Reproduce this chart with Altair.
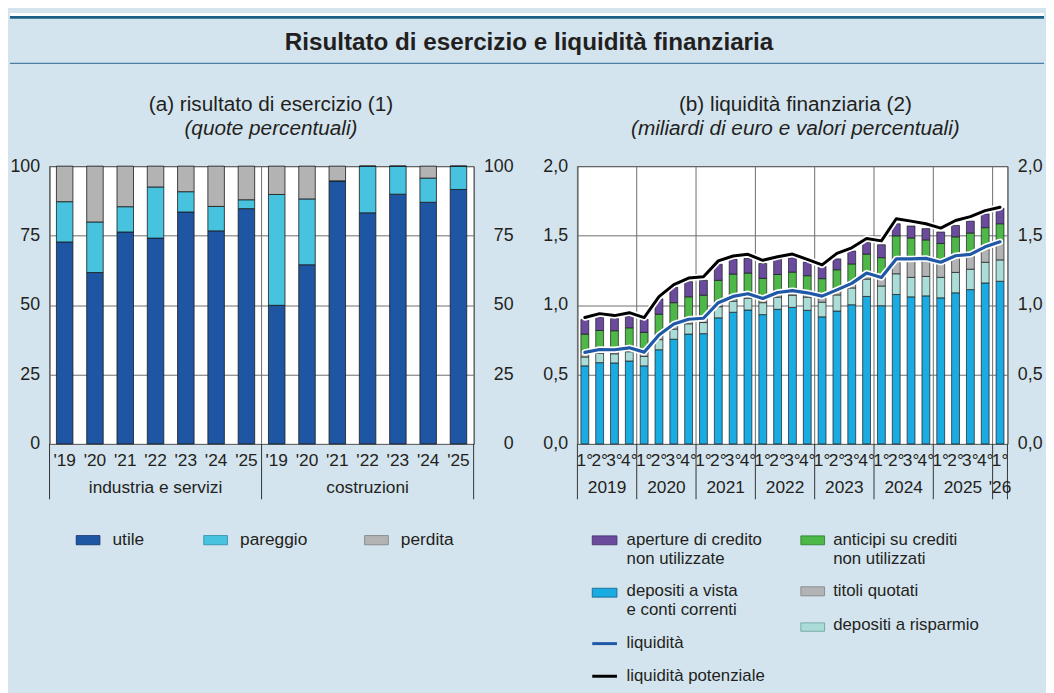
import altair as alt
import pandas as pd

FONT = "Liberation Sans"
BG = "#d3e4ee"
TXT = "#231f20"
GRID = "#6d6d6d"

# ---------------- panel (a): risultato di esercizio ----------------
groups_a = ["industria e servizi", "costruzioni"]
years_a = ["'19", "'20", "'21", "'22", "'23", "'24", "'25"]
series_a = ["utile", "pareggio", "perdita"]
colors_a = ["#1f56a3", "#48c3df", "#b3b3b3"]
strokes_a = ["#0f2f66", "#2a8aa6", "#7d7d7d"]

utile_ind = [72.7, 61.7, 76.3, 74.1, 83.5, 76.7, 84.7]
pareggio_ind = [14.5, 18.2, 9.1, 18.4, 7.3, 8.8, 3.2]
perdita_ind = [12.8, 20.1, 14.6, 7.5, 9.2, 14.5, 12.1]
utile_cos = [49.9, 64.5, 94.7, 83.2, 89.9, 87.0, 91.6]
pareggio_cos = [39.9, 23.7, 0.0, 16.8, 10.1, 8.7, 8.4]
perdita_cos = [10.2, 11.8, 5.3, 0.0, 0.0, 4.3, 0.0]

# ---------------- panel (b): liquidità finanziaria ----------------
years_b = [2019, 2020, 2021, 2022, 2023, 2024, 2025, 2026]
year_labels_b = ["2019", "2020", "2021", "2022", "2023", "2024", "2025", "'26"]
series_b = ["depositi a vista e conti correnti", "depositi a risparmio",
            "titoli quotati", "anticipi su crediti non utilizzati",
            "aperture di credito non utilizzate"]
colors_b = ["#1aabe2", "#aadcd8", "#b1b3b4", "#4db748", "#6a4b9d"]
strokes_b = ["#0d5f85", "#6a9c99", "#7f8182", "#2a7a2a", "#3e2a66"]

dep_vista = [0.562, 0.585, 0.583, 0.597, 0.562, 0.678, 0.754, 0.791, 0.794, 0.908,
             0.948, 0.964, 0.931, 0.969, 0.983, 0.962, 0.915, 0.957, 1.002, 1.062,
             0.995, 1.076, 1.059, 1.066, 1.052, 1.088, 1.111, 1.159, 1.171]
dep_risparmio = [0.064, 0.069, 0.066, 0.067, 0.068, 0.073, 0.073, 0.074, 0.080, 0.080,
                 0.080, 0.086, 0.086, 0.088, 0.088, 0.095, 0.106, 0.116, 0.121, 0.125,
                 0.142, 0.149, 0.140, 0.140, 0.147, 0.147, 0.147, 0.149, 0.154]
titoli = [0.033, 0.026, 0.029, 0.028, 0.031, 0.033, 0.036, 0.033, 0.031, 0.029,
          0.034, 0.031, 0.030, 0.033, 0.033, 0.031, 0.043, 0.036, 0.033, 0.043,
          0.062, 0.107, 0.133, 0.130, 0.109, 0.120, 0.107, 0.111, 0.130]
anticipi = [0.132, 0.137, 0.137, 0.144, 0.142, 0.150, 0.154, 0.161, 0.166, 0.161,
            0.161, 0.149, 0.145, 0.130, 0.133, 0.123, 0.126, 0.145, 0.140, 0.137,
            0.142, 0.166, 0.151, 0.133, 0.135, 0.136, 0.154, 0.138, 0.130]
aperture = [0.105, 0.093, 0.088, 0.083, 0.095, 0.111, 0.111, 0.109, 0.107, 0.116,
            0.109, 0.106, 0.107, 0.112, 0.104, 0.099, 0.090, 0.078, 0.093, 0.083,
            0.093, 0.087, 0.086, 0.081, 0.083, 0.082, 0.085, 0.099, 0.112]
liquidita = [0.659, 0.680, 0.678, 0.692, 0.661, 0.784, 0.863, 0.898, 0.905, 1.017,
             1.062, 1.081, 1.047, 1.090, 1.104, 1.088, 1.064, 1.109, 1.156, 1.230,
             1.199, 1.332, 1.332, 1.336, 1.308, 1.355, 1.365, 1.419, 1.455]
liq_potenziale = [0.910, 0.938, 0.924, 0.945, 0.910, 1.060, 1.147, 1.194, 1.204, 1.318,
                  1.353, 1.365, 1.322, 1.348, 1.367, 1.329, 1.289, 1.372, 1.412, 1.479,
                  1.462, 1.621, 1.604, 1.585, 1.554, 1.609, 1.637, 1.680, 1.704]

# ---------------- layout (pixels) ----------------
W_A, W_B, H, GAP = 429, 435, 281, 105
one = pd.DataFrame({"a": [0]})


def rect(x0, x1, y0, y1, fill, stroke=None, opacity=1.0):
    kw = dict(fill=fill, fillOpacity=opacity)
    if stroke:
        kw.update(stroke=stroke, strokeWidth=0.8)
    else:
        kw.update(strokeWidth=0)
    return alt.Chart(one).mark_rect(**kw).encode(
        x=alt.value(x0), x2=alt.value(x1), y=alt.value(y0), y2=alt.value(y1))


def text(x, y, t, size=17.5, align="left", weight="normal", style="normal"):
    return alt.Chart(one).mark_text(
        text=t, align=align, baseline="middle", fontSize=size, fontWeight=weight,
        fontStyle=style, font=FONT, color=TXT
    ).encode(x=alt.value(x), y=alt.value(y))


def hline(x0, x1, y, color, width):
    return alt.Chart(one).mark_rule(color=color, strokeWidth=width).encode(
        x=alt.value(x0), x2=alt.value(x1), y=alt.value(y))


def xaxis(expr):
    return alt.Axis(labelExpr=expr, ticks=False, domain=False, grid=False, labelAngle=0,
                    labelPadding=17, labelBaseline="middle", labelFontSize=17.5,
                    labelOverlap=False, title=None)


# ---------------- panel (a) chart ----------------
keys_a = [f"{g}|{y}" for g in groups_a for y in years_a]
rows = []
for g, vals in zip(groups_a, [(utile_ind, pareggio_ind, perdita_ind),
                              (utile_cos, pareggio_cos, perdita_cos)]):
    for j, yr in enumerate(years_a):
        for k, s in enumerate(series_a):
            rows.append({"key": f"{g}|{yr}", "serie": s, "value": vals[k][j], "ord": k})
df_a = pd.DataFrame(rows)

x_a = alt.Scale(domain=keys_a, paddingInner=0, paddingOuter=0)
y_a = alt.Scale(domain=[0, 100], nice=False, zero=True)
AX_A = xaxis("split(datum.label,'|')[1]")


def xa(bp=0.5):
    return alt.X("key:N", scale=x_a, bandPosition=bp, axis=AX_A, title=None)


bars_a = alt.Chart(df_a).mark_bar(
    width=alt.RelativeBandSize(0.545), stroke="#1a1a1a", strokeWidth=0.8
).encode(
    x=alt.X("key:N", scale=x_a, axis=AX_A, title=None),
    y=alt.Y("value:Q", stack="zero", scale=y_a, title=None,
            axis=alt.Axis(orient="left", values=[0, 25, 50, 75, 100], grid=True,
                          gridColor=GRID, domain=False, ticks=False, labelPadding=10)),
    color=alt.Color("serie:N", scale=alt.Scale(domain=series_a, range=colors_a), legend=None),
    order=alt.Order("ord:Q", sort="ascending"),
)
right_axis_a = alt.Chart(df_a).mark_tick(opacity=0).encode(
    x=xa(),
    y=alt.Y("value:Q", scale=y_a, title=None,
            axis=alt.Axis(orient="right", values=[0, 25, 50, 75, 100], grid=False,
                          domain=False, ticks=False, labelAlign="right", labelPadding=40)),
)

grp_start_a = pd.DataFrame({"key": [f"{g}|{years_a[0]}" for g in groups_a]})
grp_end_a = pd.DataFrame({"key": [f"{groups_a[-1]}|{years_a[-1]}"]})
grp_lab_a = pd.DataFrame({"key": [f"{g}|{years_a[3]}" for g in groups_a], "name": groups_a})

sep_in_a = alt.Chart(grp_start_a).mark_rule(color=GRID, strokeWidth=1).encode(
    x=xa(0), y=alt.value(0), y2=alt.value(H))
sep_out_a = alt.Chart(grp_start_a).mark_rule(color="#333333", strokeWidth=1).encode(
    x=xa(0), y=alt.value(H), y2=alt.value(337))
sep_end_a = alt.Chart(grp_end_a).mark_rule(color="#333333", strokeWidth=1).encode(
    x=xa(1), y=alt.value(H), y2=alt.value(337))
lab_a = alt.Chart(grp_lab_a).mark_text(
    fontSize=17.5, font=FONT, color=TXT, baseline="middle", align="center"
).encode(x=xa(0.5), y=alt.value(326), text="name:N")

# header (drawn in panel a coordinates; origin = top-left of plot a)
header = [
    rect(-40, 1006, -155, 530, BG, opacity=0),          # canvas anchor
    rect(-40, 1006, -155, -152, "white"),
    rect(-40, 1006, -152, -149, "#1b5f87"),
    hline(-40, 1006, -104, "#4a7fa3", 1.2),
    text(485, -124, "Risultato di esercizio e liquidità finanziaria", size=24.5,
         align="center", weight="bold"),
    text(224, -62, "(a) risultato di esercizio (1)", size=21, align="center"),
    text(224, -38, "(quote percentuali)", size=21, align="center", style="italic"),
]

legend_a = []
sw_x = [27, 156, 318.7]
for i, s in enumerate(series_a):
    legend_a.append(rect(sw_x[i], sw_x[i] + 24, 373.7, 383, colors_a[i], stroke=strokes_a[i]))
    legend_a.append(text(sw_x[i] + 36.7, 378.3, s))

chart_a = alt.layer(
    *header, sep_in_a, bars_a, right_axis_a, sep_out_a, sep_end_a, lab_a, *legend_a
).resolve_scale(y="independent").properties(width=W_A, height=H)

# ---------------- panel (b) chart ----------------
keys_b = [f"{y}|{q}" for y in years_b for q in (1, 2, 3, 4)][:29]
comp_b = [dep_vista, dep_risparmio, titoli, anticipi, aperture]
rows = []
for i, key in enumerate(keys_b):
    for k, s in enumerate(series_b):
        rows.append({"key": key, "serie": s, "value": comp_b[k][i], "ord": k})
df_b = pd.DataFrame(rows)
df_lines = pd.DataFrame({"key": keys_b, "idx": list(range(len(keys_b))),
                         "liq": liquidita, "pot": liq_potenziale})

x_b = alt.Scale(domain=keys_b, paddingInner=0, paddingOuter=0)
y_b = alt.Scale(domain=[0, 2], nice=False, zero=True)
fmt = "replace(format(datum.value,'.1f'),'.',',')"
AX_B = xaxis("split(datum.label,'|')[1] + '°'")


def xb(bp=0.5):
    return alt.X("key:N", scale=x_b, bandPosition=bp, axis=AX_B, title=None)


bars_b = alt.Chart(df_b).mark_bar(
    width=alt.RelativeBandSize(0.53), stroke="#1a1a1a", strokeWidth=0.7
).encode(
    x=alt.X("key:N", scale=x_b, axis=AX_B, title=None),
    y=alt.Y("value:Q", stack="zero", scale=y_b, title=None,
            axis=alt.Axis(orient="left", values=[0, 0.5, 1, 1.5, 2], grid=True,
                          gridColor=GRID, domain=False, ticks=False, labelPadding=10,
                          labelExpr=fmt)),
    color=alt.Color("serie:N", scale=alt.Scale(domain=series_b, range=colors_b), legend=None),
    order=alt.Order("ord:Q", sort="ascending"),
)
right_axis_b = alt.Chart(df_b).mark_tick(opacity=0).encode(
    x=xb(),
    y=alt.Y("value:Q", scale=y_b, title=None,
            axis=alt.Axis(orient="right", values=[0, 0.5, 1, 1.5, 2], grid=False,
                          domain=False, ticks=False, labelPadding=10, labelExpr=fmt)),
)


def line(field, color, width):
    return alt.Chart(df_lines).mark_line(
        color=color, strokeWidth=width, strokeJoin="round", strokeCap="round"
    ).encode(
        x=xb(0.5),
        y=alt.Y(f"{field}:Q", scale=y_b, axis=None),
        order=alt.Order("idx:Q"),
    )


year_start = pd.DataFrame({"key": [f"{y}|1" for y in years_b]})
year_end = pd.DataFrame({"key": [keys_b[-1]]})
year_lab = pd.DataFrame({"key": [f"{y}|3" for y in years_b[:-1]], "name": year_labels_b[:-1]})
year_lab_last = pd.DataFrame({"key": [keys_b[-1]], "name": [year_labels_b[-1]]})

sep_in_b = alt.Chart(year_start).mark_rule(color=GRID, strokeWidth=1).encode(
    x=xb(0), y=alt.value(0), y2=alt.value(H))
sep_out_b = alt.Chart(year_start).mark_rule(color="#333333", strokeWidth=1).encode(
    x=xb(0), y=alt.value(H), y2=alt.value(337))
sep_end_b = alt.Chart(year_end).mark_rule(color="#333333", strokeWidth=1).encode(
    x=xb(1), y=alt.value(H), y2=alt.value(337))
lab_b = alt.Chart(year_lab).mark_text(
    fontSize=17.5, font=FONT, color=TXT, baseline="middle", align="center"
).encode(x=xb(0), y=alt.value(326), text="name:N")
lab_b_last = alt.Chart(year_lab_last).mark_text(
    fontSize=17.5, font=FONT, color=TXT, baseline="middle", align="center"
).encode(x=xb(0.5), y=alt.value(326), text="name:N")

titles_b = [
    text(220.5, -62, "(b) liquidità finanziaria (2)", size=21, align="center"),
    text(220.5, -38, "(miliardi di euro e valori percentuali)", size=21, align="center",
         style="italic"),
]

LINE_LIQ = "#1f58a6"
LS = 17
legend_b = [
    rect(15, 40, 374, 383, colors_b[4], stroke=strokes_b[4]),
    text(49.7, 378.2, "aperture di credito", size=LS),
    text(49.7, 397.2, "non utilizzate", size=LS),
    rect(15, 40, 427, 436, colors_b[0], stroke=strokes_b[0]),
    text(49.7, 429.8, "depositi a vista", size=LS),
    text(49.7, 448.8, "e conti correnti", size=LS),
    hline(15, 40, 483, LINE_LIQ, 3),
    text(49.7, 482.5, "liquidità", size=LS),
    hline(15, 40, 516, "black", 3),
    text(49.7, 515.5, "liquidità potenziale", size=LS),
    rect(226, 250, 374, 383, colors_b[3], stroke=strokes_b[3]),
    text(258.7, 378.2, "anticipi su crediti", size=LS),
    text(258.7, 397.2, "non utilizzati", size=LS),
    rect(226, 250, 425.5, 434.7, colors_b[2], stroke=strokes_b[2]),
    text(258.7, 430, "titoli quotati", size=LS),
    rect(226, 250, 462, 470.5, colors_b[1], stroke=strokes_b[1]),
    text(258.7, 464.3, "depositi a risparmio", size=LS),
]

chart_b = alt.layer(
    *titles_b, sep_in_b, bars_b, right_axis_b,
    line("liq", "white", 6.5), line("liq", LINE_LIQ, 3.2),
    line("pot", "white", 6.5), line("pot", "black", 3),
    sep_out_b, sep_end_b, lab_b, lab_b_last, *legend_b
).resolve_scale(y="independent").properties(width=W_B, height=H)

chart = alt.hconcat(chart_a, chart_b, spacing=GAP, bounds="flush").resolve_scale(
    color="independent", x="independent", y="independent"
).properties(
    padding=0
).configure(
    background=BG, font=FONT
).configure_view(
    fill="white", stroke="#1a1a1a", strokeWidth=1
).configure_axis(
    labelFont=FONT, labelColor=TXT, labelFontSize=18
)

chart.save("out.html", embed_options={"renderer": "svg", "actions": False})
